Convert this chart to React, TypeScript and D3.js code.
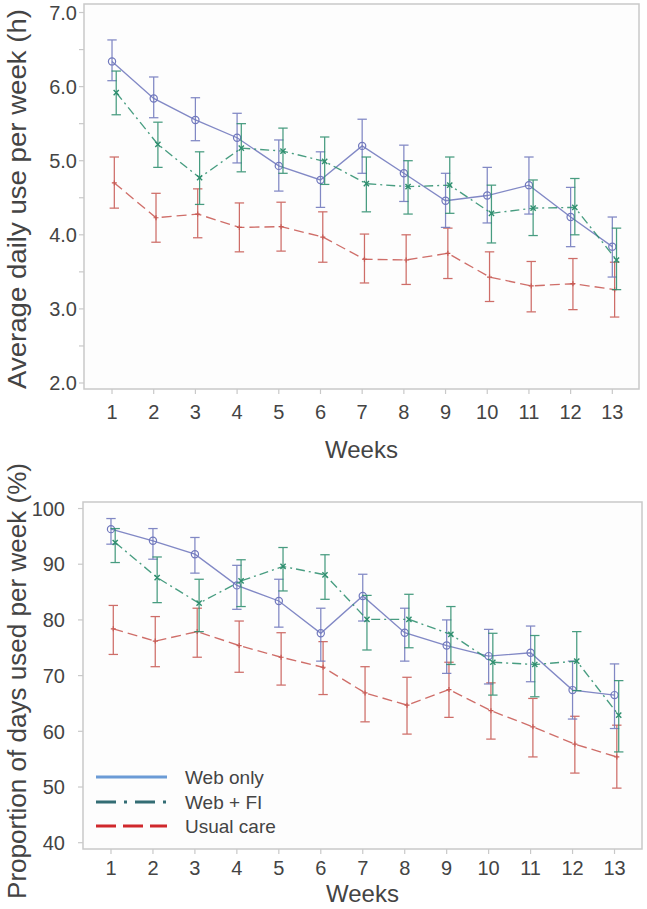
import React from "react";
import * as d3 from "d3";

const weeks = [1, 2, 3, 4, 5, 6, 7, 8, 9, 10, 11, 12, 13];

// Panel 1: average daily use per week (h)
const webOnlyHours = [6.34, 5.84, 5.55, 5.31, 4.93, 4.74, 5.2, 4.83, 4.46, 4.53, 4.67, 4.24, 3.84];
const webOnlyHoursLo = [6.08, 5.58, 5.27, 4.97, 4.59, 4.37, 4.83, 4.45, 4.1, 4.16, 4.28, 3.84, 3.43];
const webOnlyHoursHi = [6.63, 6.13, 5.85, 5.64, 5.28, 5.12, 5.56, 5.21, 4.83, 4.91, 5.05, 4.64, 4.24];

const webFIHours = [5.92, 5.22, 4.77, 5.17, 5.13, 4.99, 4.69, 4.65, 4.67, 4.29, 4.36, 4.37, 3.66];
const webFIHoursLo = [5.62, 4.91, 4.41, 4.85, 4.83, 4.68, 4.31, 4.28, 4.29, 3.89, 3.99, 4.0, 3.26];
const webFIHoursHi = [6.21, 5.52, 5.12, 5.5, 5.44, 5.32, 5.05, 5.0, 5.05, 4.67, 4.74, 4.76, 4.09];

const usualHours = [4.7, 4.23, 4.28, 4.1, 4.11, 3.97, 3.67, 3.66, 3.75, 3.43, 3.31, 3.34, 3.26];
const usualHoursLo = [4.36, 3.9, 3.96, 3.77, 3.78, 3.63, 3.35, 3.33, 3.41, 3.1, 2.96, 2.99, 2.89];
const usualHoursHi = [5.05, 4.56, 4.62, 4.43, 4.44, 4.31, 4.01, 4.0, 4.09, 3.77, 3.64, 3.68, 3.63];

// Panel 2: proportion of days used per week (%)
const webOnlyPct = [96.3, 94.2, 91.8, 86.2, 83.4, 77.6, 84.3, 77.7, 75.4, 73.5, 74.1, 67.4, 66.5];
const webOnlyPctLo = [93.6, 90.9, 88.4, 81.9, 78.7, 72.6, 79.8, 72.6, 70.4, 68.5, 68.9, 62.2, 60.5];
const webOnlyPctHi = [98.2, 96.4, 94.8, 89.8, 87.3, 82.1, 88.2, 82.1, 80.0, 78.3, 78.9, 72.6, 72.1];

const webFIPct = [93.9, 87.6, 83.0, 87.0, 89.6, 88.1, 80.1, 80.1, 77.4, 72.4, 72.0, 72.6, 62.9];
const webFIPctLo = [90.3, 83.1, 77.9, 82.4, 85.2, 83.7, 74.6, 75.0, 72.0, 66.5, 66.2, 67.3, 56.3];
const webFIPctHi = [96.4, 91.3, 87.3, 90.8, 93.0, 91.7, 84.4, 84.6, 82.4, 77.6, 77.2, 77.9, 69.1];

const usualPct = [78.4, 76.2, 77.9, 75.4, 73.3, 71.5, 66.9, 64.7, 67.5, 63.7, 60.8, 57.7, 55.4];
const usualPctLo = [73.8, 71.6, 73.3, 70.6, 68.3, 66.6, 61.7, 59.5, 62.5, 58.6, 55.4, 52.5, 49.8];
const usualPctHi = [82.6, 80.6, 82.1, 79.8, 77.7, 76.1, 71.6, 69.7, 72.4, 68.7, 65.9, 62.7, 61.1];

const hourTicks = [2, 3, 4, 5, 6, 7];
const hourMinorTicks = [2, 2.5, 3, 3.5, 4, 4.5, 5, 5.5, 6, 6.5, 7];
const pctTicks = [40, 50, 60, 70, 80, 90, 100];

const legendLabels = ["Web only", "Web + FI", "Usual care"];

const FONT = "'Liberation Sans', Arial, Helvetica, sans-serif";
const TEXT = "#444444";
const FRAME = "#c9c9c9";

const BLUE = "#7078bd";
const GREEN = "#2f8f6f";
const RED = "#c85a54";

type Series = {
  vals: number[];
  lo: number[];
  hi: number[];
  color: string;
  dash: string | undefined;
  dx: number;
  marker: "circle" | "x" | "plus";
};

function Marker({ kind, x, y, color }: { kind: string; x: number; y: number; color: string }) {
  if (kind === "circle") {
    return <circle cx={x} cy={y} r={3.6} fill="none" stroke={color} strokeWidth={1.2} />;
  }
  if (kind === "x") {
    const s = 2.6;
    return (
      <path
        d={`M${x - s},${y - s}L${x + s},${y + s}M${x - s},${y + s}L${x + s},${y - s}`}
        stroke={color}
        strokeWidth={1.4}
      />
    );
  }
  const s = 2.5;
  return (
    <path d={`M${x - s},${y}L${x + s},${y}M${x},${y - s}L${x},${y + s}`} stroke={color} strokeWidth={1.2} />
  );
}

function Panel({
  x,
  y,
  series,
  ticks,
  minorTicks,
  tickFmt,
  tickLabelRight,
  xTickLabelY,
  weeksY,
  title,
  titleY,
  titleSize,
  titleLen,
  children,
}: {
  x: d3.ScaleLinear<number, number>;
  y: d3.ScaleLinear<number, number>;
  series: Series[];
  ticks: number[];
  minorTicks: number[];
  tickFmt: (v: number) => string;
  tickLabelRight: number;
  xTickLabelY: number;
  weeksY: number;
  title: string;
  titleY: number;
  titleSize: number;
  titleLen: number;
  children?: React.ReactNode;
}) {
  const [x0, x1] = x.range();
  const [y0, y1] = y.range();
  const cap = 4.7;
  return (
    <g>
      <rect x={x0} y={y1} width={x1 - x0} height={y0 - y1} fill="#fdfdfd" stroke={FRAME} strokeWidth={1.5} />
      {minorTicks.map((t) => (
        <line key={"yt" + t} x1={x0 - 5} x2={x0} y1={y(t)} y2={y(t)} stroke={FRAME} strokeWidth={1.2} />
      ))}
      {ticks.map((t) => (
        <text
          key={"yl" + t}
          x={tickLabelRight}
          y={y(t)}
          dy="0.36em"
          textAnchor="end"
          fontFamily={FONT}
          fontSize={20}
          fill={TEXT}
        >
          {tickFmt(t)}
        </text>
      ))}
      {weeks.map((w) => (
        <g key={"xt" + w}>
          <line x1={x(w)} x2={x(w)} y1={y0} y2={y0 + 5} stroke={FRAME} strokeWidth={1.2} />
          <text
            x={x(w)}
            y={xTickLabelY}
            dy="0.36em"
            textAnchor="middle"
            fontFamily={FONT}
            fontSize={20}
            fill={TEXT}
          >
            {w}
          </text>
        </g>
      ))}
      <text x={(x0 + x1) / 2} y={weeksY} dy="0.36em" textAnchor="middle" fontFamily={FONT} fontSize={24} fill={TEXT}>
        Weeks
      </text>
      <text
        transform={`translate(17,${titleY}) rotate(-90)`}
        dy="0.36em"
        textAnchor="middle"
        fontFamily={FONT}
        fontSize={titleSize}
        textLength={titleLen}
        lengthAdjust="spacingAndGlyphs"
        fill={TEXT}
      >
        {title}
      </text>
      {series.map((s, si) => {
        const line = d3
          .line<number>()
          .x((_, i) => x(weeks[i]) + s.dx)
          .y((v) => y(v));
        return (
          <g key={"s" + si}>
            {weeks.map((w, i) => {
              const cx = x(w) + s.dx;
              return (
                <g key={"e" + i} stroke={s.color} strokeWidth={1.25} opacity={0.88}>
                  <line x1={cx} x2={cx} y1={y(s.lo[i])} y2={y(s.hi[i])} />
                  <line x1={cx - cap} x2={cx + cap} y1={y(s.lo[i])} y2={y(s.lo[i])} />
                  <line x1={cx - cap} x2={cx + cap} y1={y(s.hi[i])} y2={y(s.hi[i])} />
                </g>
              );
            })}
            <path d={line(s.vals) || ""} fill="none" stroke={s.color} strokeWidth={1.35} strokeDasharray={s.dash} opacity={0.88} />
            {weeks.map((w, i) => (
              <Marker key={"m" + i} kind={s.marker} x={x(w) + s.dx} y={y(s.vals[i])} color={s.color} />
            ))}
          </g>
        );
      })}
      {children}
    </g>
  );
}

export default function App() {
  const xTop = d3.scaleLinear().domain([0.328, 13.64]).range([84, 639]);
  const yTop = d3.scaleLinear().domain([1.919, 7.115]).range([389, 4]);
  const xBot = d3.scaleLinear().domain([0.333, 13.655]).range([83, 642]);
  const yBot = d3.scaleLinear().domain([38.87, 101.17]).range([849, 502]);

  const mk = (vals: number[], lo: number[], hi: number[], color: string, dash: string | undefined, dx: number, marker: any): Series => ({
    vals,
    lo,
    hi,
    color,
    dash,
    dx,
    marker,
  });

  const topSeries: Series[] = [
    mk(usualHours, usualHoursLo, usualHoursHi, RED, "10,5", 2.3, "plus"),
    mk(webOnlyHours, webOnlyHoursLo, webOnlyHoursHi, BLUE, undefined, 0, "circle"),
    mk(webFIHours, webFIHoursLo, webFIHoursHi, GREEN, "9,4,2,4", 4.2, "x"),
  ];
  const botSeries: Series[] = [
    mk(usualPct, usualPctLo, usualPctHi, RED, "10,5", 2.3, "plus"),
    mk(webOnlyPct, webOnlyPctLo, webOnlyPctHi, BLUE, undefined, 0, "circle"),
    mk(webFIPct, webFIPctLo, webFIPctHi, GREEN, "9,4,2,4", 4.2, "x"),
  ];

  const legendColors = ["#6b9bd6", "#336d74", "#d0282c"];
  const legendDash = [undefined, "20,8,3,8", "20,7"];
  const legendY = [777, 802, 826];

  return (
    <svg width={647} height={909} style={{ position: "absolute", left: 0, top: 0, background: "#fff" }}>
      <Panel
        x={xTop}
        y={yTop}
        series={topSeries}
        ticks={hourTicks}
        minorTicks={hourMinorTicks}
        tickFmt={(v) => v.toFixed(1)}
        tickLabelRight={77}
        xTickLabelY={412}
        weeksY={449}
        title="Average daily use per week (h)"
        titleY={199}
        titleSize={26}
        titleLen={380}
      />
      <Panel
        x={xBot}
        y={yBot}
        series={botSeries}
        ticks={pctTicks}
        minorTicks={pctTicks}
        tickFmt={(v) => String(v)}
        tickLabelRight={65}
        xTickLabelY={868}
        weeksY={893}
        title="Proportion of days used per week (%)"
        titleY={681}
        titleSize={25}
        titleLen={436}
      >
        {legendLabels.map((lab, i) => (
          <g key={lab}>
            <line
              x1={96}
              x2={167}
              y1={legendY[i]}
              y2={legendY[i]}
              stroke={legendColors[i]}
              strokeWidth={3}
              strokeDasharray={legendDash[i]}
            />
            <text x={185} y={legendY[i]} dy="0.36em" fontFamily={FONT} fontSize={19} fill={TEXT}>
              {lab}
            </text>
          </g>
        ))}
      </Panel>
    </svg>
  );
}
